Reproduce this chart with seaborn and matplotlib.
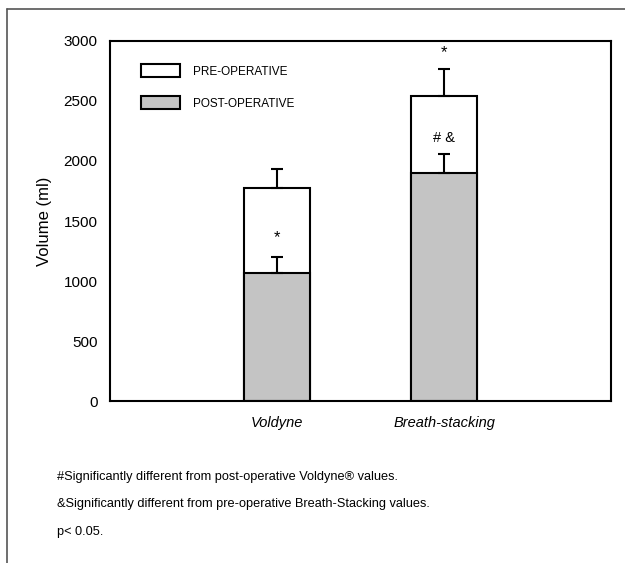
import matplotlib
matplotlib.use("Agg")
import matplotlib.pyplot as plt
import seaborn as sns
from matplotlib.patches import Patch
from matplotlib.lines import Line2D


# DATA

groups = ["Voldyne", "Breath-stacking"]
pre_values = [1775, 2543]
pre_sd = [156, 222]
post_values = [1068, 1897]
post_sd = [135, 161]

series_labels = ["PRE-OPERATIVE", "POST-OPERATIVE"]
y_ticks = [0, 500, 1000, 1500, 2000, 2500, 3000]

notes = [
    "#Significantly different from post-operative Voldyne\u00ae values.",
    "&Significantly different from pre-operative Breath-Stacking values.",
    "p< 0.05.",
]


# STYLE

sns.set_style("white")
plt.rcParams["font.family"] = ["Liberation Sans", "DejaVu Sans"]
plt.rcParams["text.color"] = "black"
plt.rcParams["xtick.color"] = "black"
plt.rcParams["ytick.color"] = "black"
plt.rcParams["axes.labelcolor"] = "black"

gray = "#c4c4c4"


# FIGURE

fig = plt.figure(figsize=(6.25, 5.63), dpi=100)
ax = fig.add_axes([0.176, 0.2877, 0.8016, 0.6395])

# pre-operative bar behind, post-operative bar in front
sns.barplot(x=groups, y=pre_values, color="white", edgecolor="black",
            linewidth=1.5, width=0.4, errorbar=None, saturation=1, ax=ax)
sns.barplot(x=groups, y=post_values, color=gray, edgecolor="black",
            linewidth=1.5, width=0.4, errorbar=None, saturation=1, ax=ax)

xpos = list(range(len(groups)))
ax.errorbar(xpos, pre_values, yerr=[[0] * len(groups), pre_sd], fmt="none",
            ecolor="black", elinewidth=1.5, capsize=4.3, capthick=1.5, zorder=5)
ax.errorbar(xpos, post_values, yerr=[[0] * len(groups), post_sd], fmt="none",
            ecolor="black", elinewidth=1.5, capsize=4.3, capthick=1.5, zorder=5)

# significance marks
ax.text(0, 1360, "*", ha="center", va="center", fontsize=12)
ax.text(1, 2905, "*", ha="center", va="center", fontsize=12)
ax.text(1, 2190, "# &", ha="center", va="center", fontsize=10.5)

ax.set_xlim(-1, 2)
ax.set_ylim(0, 3000)
ax.set_yticks(y_ticks)
ax.set_yticklabels([str(t) for t in y_ticks], fontsize=11)
ax.set_xticks(xpos)
ax.set_xticklabels(groups, fontsize=10.5, style="italic")
ax.tick_params(axis="both", length=0)
ax.tick_params(axis="y", pad=9)
ax.tick_params(axis="x", pad=11)
ax.set_xlabel("")
ax.set_ylabel("Volume (ml)", fontsize=12, labelpad=8)

for side in ["left", "right", "top", "bottom"]:
    ax.spines[side].set_visible(True)
    ax.spines[side].set_color("black")
    ax.spines[side].set_linewidth(1.5)

handles = [
    Patch(facecolor="white", edgecolor="black", linewidth=1.5, label=series_labels[0]),
    Patch(facecolor=gray, edgecolor="black", linewidth=1.5, label=series_labels[1]),
]
ax.legend(handles=handles, loc="upper left", bbox_to_anchor=(0.04, 0.965),
          frameon=False, fontsize=8.5, handlelength=3.3, handleheight=1.3,
          labelspacing=1.6, handletextpad=1.1)

# notes under the chart
for text, y in zip(notes, [0.153, 0.104, 0.055]):
    fig.text(0.091, y, text, ha="left", va="center", fontsize=9.2)

# outer frame (top and left edges)
fig.add_artist(Line2D([7 / 625, 1.0], [1 - 9 / 563, 1 - 9 / 563],
                      transform=fig.transFigure, color="#555555", linewidth=1.2))
fig.add_artist(Line2D([7 / 625, 7 / 625], [0.0, 1 - 9 / 563],
                      transform=fig.transFigure, color="#555555", linewidth=1.2))

fig.savefig("out.png", dpi=100)
